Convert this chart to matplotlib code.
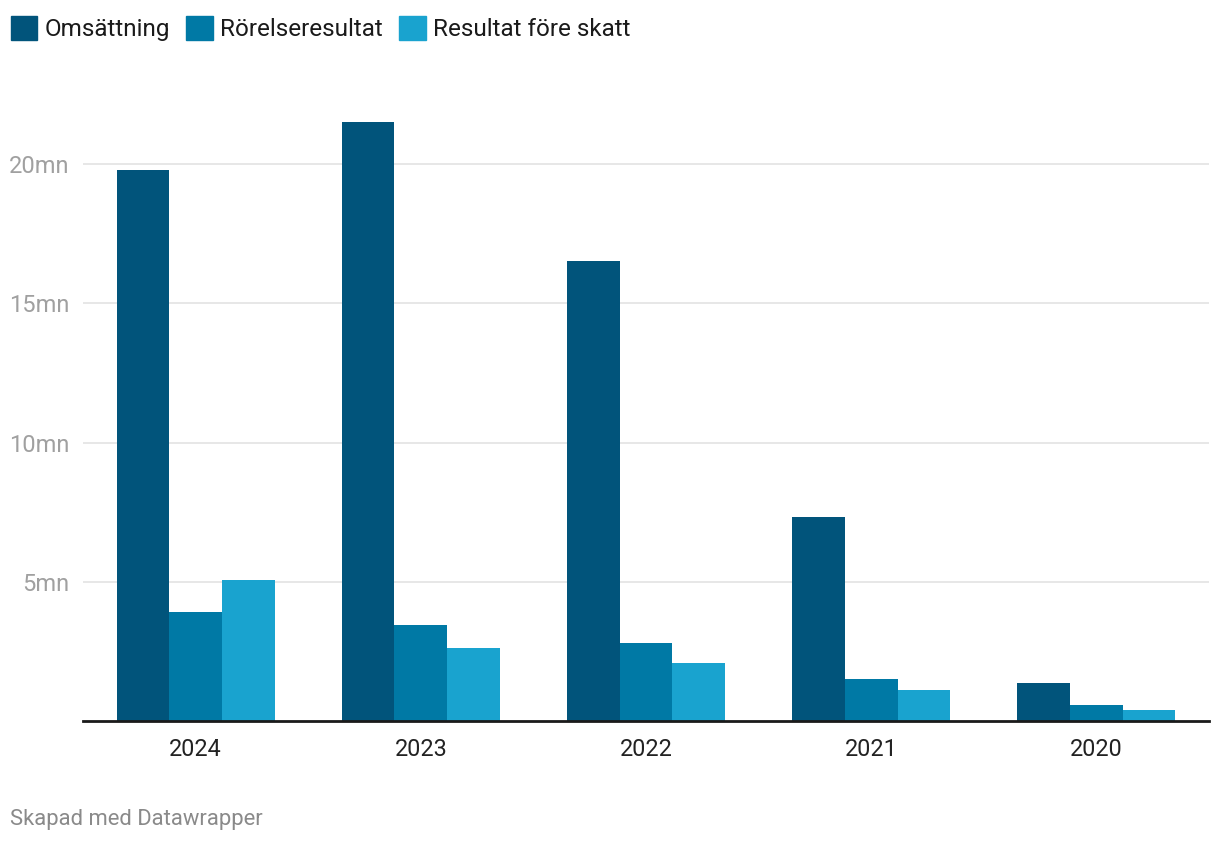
import numpy as np
import matplotlib.pyplot as plt
from matplotlib.patches import Patch

years = ['2024', '2023', '2022', '2021', '2020']
omsattning = [19.78, 21.5, 16.52, 7.32, 1.36]
rorelseresultat = [3.92, 3.45, 2.8, 1.51, 0.57]
resultat_fore_skatt = [5.06, 2.62, 2.08, 1.11, 0.39]

series = ['Omsättning', 'Rörelseresultat', 'Resultat före skatt']
colors = ['#01547b', '#0079a5', '#19a3cf']

plt.rcParams['font.family'] = ['Roboto', 'DejaVu Sans']

fig = plt.figure(figsize=(12.2, 8.44), dpi=100)
ax = fig.add_axes([83 / 1220, 1 - 721 / 844, 1126 / 1220, 621 / 844])

x = np.arange(len(years))
w = 0.234
for i, (vals, c) in enumerate(zip([omsattning, rorelseresultat, resultat_fore_skatt], colors)):
    ax.bar(x + (i - 1) * w, vals, width=w, color=c, zorder=3, linewidth=0)

ax.set_xlim(-0.5, len(years) - 0.5)
ax.set_ylim(0, 621 / 27.85)
ax.set_yticks([5, 10, 15, 20])
ax.set_yticklabels(['5mn', '10mn', '15mn', '20mn'])
ax.set_xticks(x)
ax.set_xticklabels(years)
ax.grid(axis='y', color='#e3e3e3', linewidth=1.2, zorder=0)

for s in ['top', 'right', 'left']:
    ax.spines[s].set_visible(False)
ax.spines['bottom'].set_color('#1a1a1a')
ax.spines['bottom'].set_linewidth(2)
ax.spines['bottom'].set_zorder(4)

ax.tick_params(axis='y', length=0, pad=10, labelsize=17, labelcolor='#a0a0a0')
ax.tick_params(axis='x', length=0, pad=12, labelsize=16.8, labelcolor='#222222')

handles = [Patch(color=c, label=s) for s, c in zip(series, colors)]
fig.legend(handles=handles, loc='upper left', bbox_to_anchor=(2 / 1220, 1 - 7 / 844),
           ncol=3, frameon=False, fontsize=17.5, handlelength=1.1, handleheight=1.15,
           handletextpad=0.3, columnspacing=0.66, borderpad=0.1, borderaxespad=0.25,
           labelcolor='#1a1a1a')

fig.text(10 / 1220, 1 - 820 / 844, 'Skapad med Datawrapper', fontsize=15.8,
         color='#8a8a8a', va='center', ha='left')

fig.savefig('out.png', dpi=100)
